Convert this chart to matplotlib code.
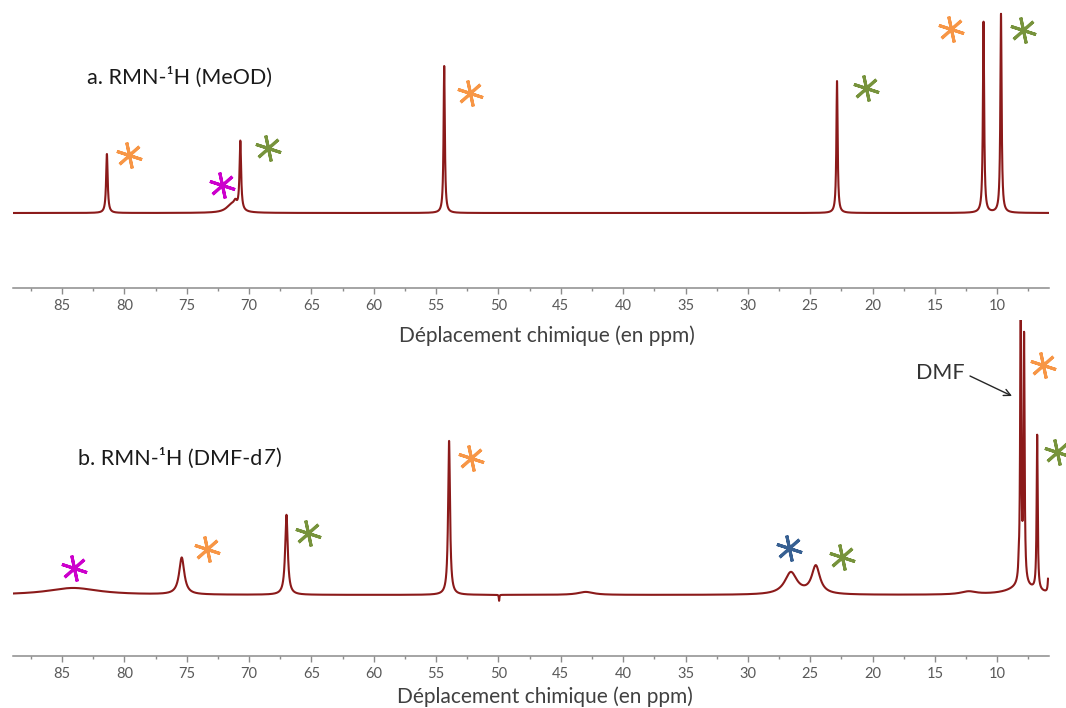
import numpy as np
import matplotlib
matplotlib.use('Agg')
import matplotlib.pyplot as plt
from matplotlib.ticker import MultipleLocator
from matplotlib.font_manager import FontProperties, findfont

plt.rcParams['font.family'] = ['Lato', 'DejaVu Sans']

# ---------------- data ----------------
xlim_ppm = (88.93, 5.85)
major_step = 5
minor_step = 2.5

# spectrum a (MeOD): peak position (ppm), height, width (ppm)
peaks_a_ppm = [81.4, 71.4, 71.1, 70.7, 54.35, 22.85, 11.1, 9.7]
peaks_a_height = [59, 8, 6, 69, 147, 132, 191, 199]
peaks_a_width = [0.15, 1.0, 0.3, 0.15, 0.12, 0.12, 0.12, 0.12]
range_a = (88.93, 5.85)

# spectrum b (DMF-d7)
peaks_b_ppm = [84.1, 75.4, 67.0, 53.96, 49.95, 43.0, 26.55, 24.55, 12.3,
               8.0, 8.28, 8.12, 7.85, 6.8, 5.9]
peaks_b_height = [7, 37, 80, 154, -6, 3, 22, 28, 3,
                  8, 12, 300, 245, 155, 18]
peaks_b_width = [5.0, 0.5, 0.25, 0.18, 0.05, 1.5, 1.2, 0.8, 1.5,
                 2.5, 0.06, 0.1, 0.1, 0.1, 0.1]
range_b = (88.93, 5.93)

# stars (ppm, height, colour)
ORANGE, GREEN, MAGENTA, BLUE = '#F79646', '#77933C', '#CC00CC', '#376092'
stars_a_ppm = [79.6, 72.2, 68.5, 52.3, 20.5, 13.7, 7.9]
stars_a_h = [58, 28, 65, 120, 125, 184, 183]
stars_a_col = [ORANGE, MAGENTA, GREEN, ORANGE, GREEN, ORANGE, GREEN]

stars_b_ppm = [84.0, 73.4, 65.3, 52.2, 26.7, 22.45, 6.35, 5.2]
stars_b_h = [27, 46, 62, 137, 47, 38, 230, 143]
stars_b_col = [MAGENTA, ORANGE, GREEN, ORANGE, BLUE, GREEN, ORANGE, GREEN]

label_a = 'a. RMN-¹H (MeOD)'
label_b_parts = ['b. RMN-¹H (DMF-d', '7', ')']
xlabel = 'Déplacement chimique (en ppm)'

# ---------------- figure ----------------
W, H = 1066, 708
fig = plt.figure(figsize=(W / 100, H / 100), dpi=100)


def fx(x):
    return x / W


def fy(y):
    return 1 - y / H


SPEC = '#8B1A1A'
AXC = '#8C8C8C'
TXT = 15.5


def spectrum(rng, pos, hts, wid):
    x = np.linspace(rng[0], rng[1], 25000)
    y = np.zeros_like(x)
    for p, h, w in zip(pos, hts, wid):
        y += h / (1 + (2 * (x - p) / w) ** 2)
    return x, y


def make_ax(y_top, y_axis, baseline):
    ax = fig.add_axes([fx(13), fy(y_axis), (1049 - 13) / W, (y_axis - y_top) / H])
    ax.set_facecolor('none')
    ax.set_xlim(*xlim_ppm)
    ax.set_ylim(-(y_axis - baseline), baseline - y_top)
    for s in ['top', 'left', 'right']:
        ax.spines[s].set_visible(False)
    ax.spines['bottom'].set_color(AXC)
    ax.spines['bottom'].set_linewidth(1.1)
    ax.yaxis.set_visible(False)
    ax.xaxis.set_major_locator(MultipleLocator(major_step))
    ax.xaxis.set_minor_locator(MultipleLocator(minor_step))
    ax.tick_params(axis='x', which='major', direction='out', length=4.3,
                   width=1, color=AXC, labelsize=10.5, labelcolor='#595959', pad=3.5)
    ax.tick_params(axis='x', which='minor', direction='out', length=2.2,
                   width=1, color=AXC)
    return ax


def stars(ax, ppm, h, col):
    for p, v, c in zip(ppm, h, col):
        ax.plot(p, v, marker=(6, 2, 12), ms=19, mec=c, mew=2.2, ls='none',
                clip_on=False)


ax1 = make_ax(0, 288, 213)
xa, ya = spectrum(range_a, peaks_a_ppm, peaks_a_height, peaks_a_width)
ax1.plot(xa, ya, color=SPEC, lw=1.5)
stars(ax1, stars_a_ppm, stars_a_h, stars_a_col)

ax2 = make_ax(320, 656, 595)
xb, yb = spectrum(range_b, peaks_b_ppm, peaks_b_height, peaks_b_width)
ax2.plot(xb, yb, color=SPEC, lw=1.5)
stars(ax2, stars_b_ppm, stars_b_h, stars_b_col)

fig.text(fx(87), fy(77), label_a, ha='left', va='center', fontsize=TXT, color='#1a1a1a')

# label b with an italic "7"
it_fp = FontProperties(family='Lato', style='italic')
if 'italic' not in findfont(it_fp).lower():
    it_fp = FontProperties(family='DejaVu Sans', style='oblique')
it_fp.set_size(TXT)
renderer = fig.canvas.get_renderer()
x0 = 78
for i, part in enumerate(label_b_parts):
    kw = dict(ha='left', va='center', color='#1a1a1a')
    if i == 1:
        t = fig.text(fx(x0), fy(458), part, fontproperties=it_fp, **kw)
    else:
        t = fig.text(fx(x0), fy(458), part, fontsize=TXT, **kw)
    bb = t.get_window_extent(renderer)
    x0 += bb.width + (1 if i == 1 else 0)

fig.text(fx(547), fy(336), xlabel, ha='center', va='center', fontsize=15, color='#404040')
fig.text(fx(545), fy(697), xlabel, ha='center', va='center', fontsize=15, color='#404040')

fig.text(fx(940), fy(373), 'DMF', ha='center', va='center', fontsize=TXT, color='#333333')
ax2.annotate('', xy=(fx(1012), fy(396)), xycoords='figure fraction',
             xytext=(fx(970), fy(376)), textcoords='figure fraction',
             arrowprops=dict(arrowstyle='->', color='#262626', lw=1.0,
                             shrinkA=0, shrinkB=0, mutation_scale=12))

fig.savefig('out.png', dpi=100)
